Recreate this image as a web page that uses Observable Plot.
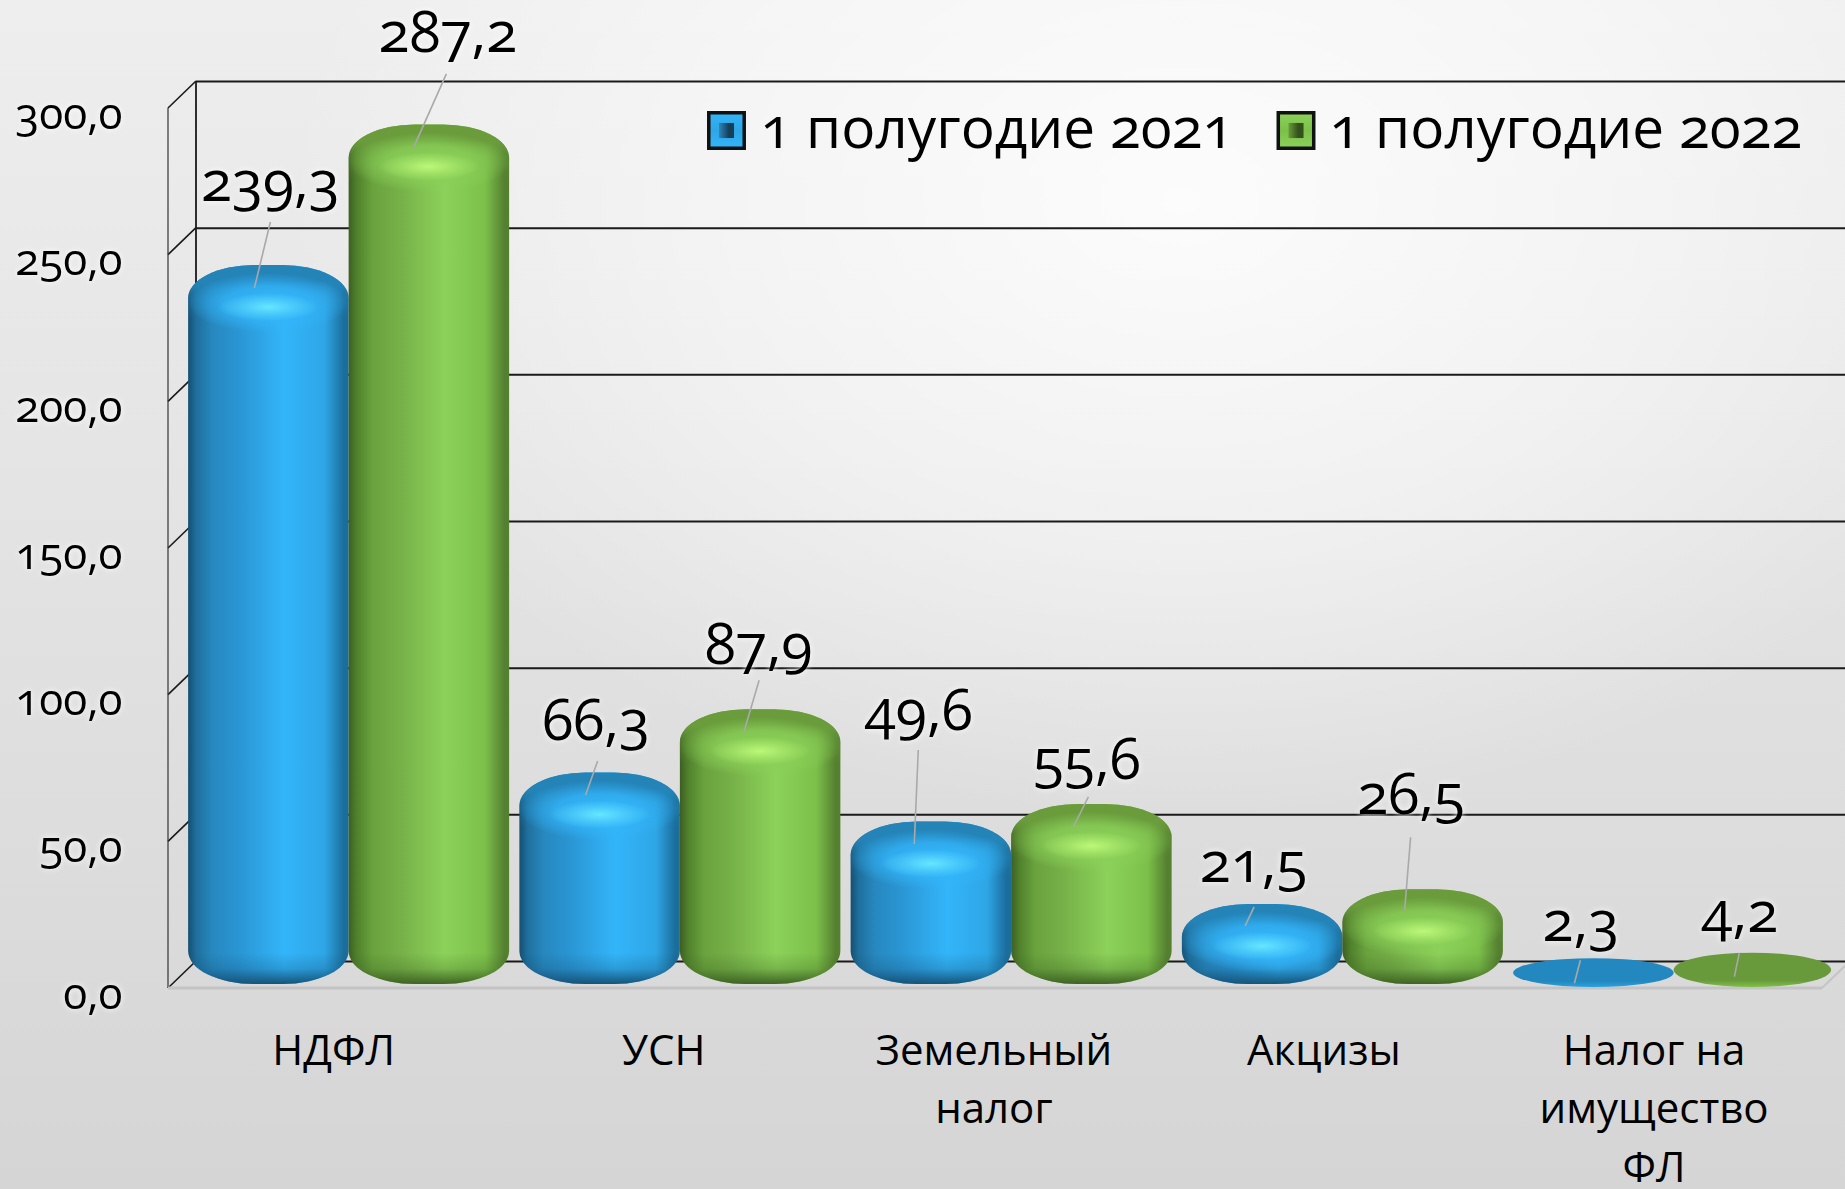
<!DOCTYPE html>
<html lang="ru">
<head>
<meta charset="utf-8">
<script src="https://cdn.jsdelivr.net/npm/d3@7"></script>
<script src="https://cdn.jsdelivr.net/npm/@observablehq/plot@0.6"></script>
<style>
html,body{margin:0;padding:0;width:1845px;height:1189px;overflow:hidden}
body{background:
 radial-gradient(ellipse 900px 620px at 1180px 200px, rgba(255,255,255,.85) 0%, rgba(255,255,255,.45) 55%, rgba(255,255,255,0) 100%),
 linear-gradient(180deg,#eeeeee 0%,#e8e8e8 25%,#dedede 65%,#d5d5d5 100%);}
</style>
</head>
<body>
<div id="chart"></div>
<script>
const categories = ["НДФЛ", "УСН", "Земельный\nналог", "Акцизы", "Налог на\nимущество\nФЛ"];
const series = ["1 полугодие 2021", "1 полугодие 2022"];
const values2021 = [239.3, 66.3, 49.6, 21.5, 2.3];
const values2022 = [287.2, 87.9, 55.6, 26.5, 4.2];
const yTicks = [0, 50, 100, 150, 200, 250, 300];

// hand placement of the value labels, relative to the top centre of each bar: [dx, dy]
const labelOffsets2021 = [[1.5,-65],[-4,-33],[-12.6,-92],[-9,-22],[-13,-20]];
const labelOffsets2022 = [[18.5,-72.6],[-2,-46],[-5,-25],[-12,-76],[-14.5,-23]];
// leader lines: [dx1, dy1, dx2, dy2]
const leaderOffsets2021 = [[2,-43,-14,23],[-2,-11.5,-14,22.5],[-12.6,-71.5,-16.6,22.5],[-8,3,-17,22],[-13,0,-19,23]];
const leaderOffsets2022 = [[17.5,-50.6,-15,22.4],[-1,-29,-16,22],[-3,-7,-18,23],[-12,-52,-18,21],[-14.5,-2,-19.5,22]];

const fmt = v => v.toFixed(1).replace(".", ",");
const FONT = "'Open Sans', 'Noto Sans', sans-serif";
const BAR_W = 160.5, BAND = 331.25;
const INSET = (BAND - BAR_W) / 2;
const RX = 66;                                  // corner roundness of the tall bars
const DX = [15 - BAR_W / 2, 15 + BAR_W / 2];   // bar centre offset from the band centre
const LIFT = -21;                               // bars stand in the middle of the floor depth
const FLAT = 10;                                // below this value a bar is drawn as a flat disc

const makeRows = (vals, labels, leaders, s) => vals.map((value, i) => ({
  category: categories[i], value, s, label: labels[i], leader: leaders[i]
}));
const rowSets = [
  makeRows(values2021, labelOffsets2021, leaderOffsets2021, 0),
  makeRows(values2022, labelOffsets2022, leaderOffsets2022, 1)
];

function barMarks(rows, s) {
  const id = ["b", "g"][s];
  const tall = rows.filter(d => d.value >= FLAT);
  const flat = rows.filter(d => d.value < FLAT);
  const base = {x: "category", dx: DX[s], dy: LIFT};
  const side = {insetLeft: INSET, insetRight: INSET};
  const overlay = (y1, extra) => Plot.barY(tall, {...base, ...side, y1, y2: y1, ...extra});
  return [
    Plot.barY(tall, {...base, ...side, y1: () => 0, y2: "value", insetBottom: -17,
      rx: RX, ry: 33, fill: `url(#${id}Body)`}),
    // shading along the lower rounded edge
    overlay(() => 0, {insetTop: -52, insetBottom: -17, rx: RX, ry: 33, fill: `url(#${id}Bottom)`}),
    // darker top face
    overlay("value", {insetTop: 0, insetBottom: -100, rx: RX, ry: 33, fill: `url(#${id}Top)`}),
    // bright band below the top face, fading towards the sides
    overlay("value", {insetTop: 8, insetBottom: -68, rx: BAR_W / 2, ry: 30, fill: `url(#${id}Rim)`}),
    // highlight
    overlay("value", {insetTop: 28, insetBottom: -56, insetLeft: INSET + 30, insetRight: INSET + 30, rx: 50, ry: 14, fill: `url(#${id}Hi)`}),
    // very low values collapse to a disc
    Plot.barY(flat, {...base, insetLeft: INSET, insetRight: INSET + s * 3, y1: () => 0, y2: "value", insetTop: -2, insetBottom: -20,
      rx: BAR_W / 2, ry: 20, fill: `url(#${id}Disc)`})
  ];
}

function labelMarks(rows, s) {
  return rows.flatMap(d => [
    Plot.text([d], {x: "category", y: "value", text: r => fmt(r.value),
      dx: DX[s] + d.label[0], dy: LIFT + d.label[1],
      lineAnchor: "bottom", textAnchor: "middle", fontSize: 57, fontVariant: "oldstyle-nums",
      fill: "#000", imageFilter: "drop-shadow(0 0 3px #fff)"}),
    (index, {x, y}) => {
      const cx = x(d.category) + x.bandwidth() / 2 + DX[s];
      const cy = y(d.value) + LIFT;
      const [a, b, c, e] = d.leader;
      return d3.create("svg:line")
        .attr("x1", cx + a).attr("y1", cy + b).attr("x2", cx + c).attr("y2", cy + e)
        .attr("stroke", "#a9a9a9").attr("stroke-width", 1.6).node();
    }
  ]);
}

const walls = (index, {y}, _v, {width, marginLeft, marginRight}) => {
  const g = d3.create("svg:g").attr("fill", "none");
  const D = 28, E = 27, L = marginLeft, R = 1822;
  // diagonals of the left wall
  for (const t of yTicks) {
    g.append("line").attr("x1", L).attr("y1", y(t)).attr("x2", L + D).attr("y2", y(t) - E)
      .attr("stroke", "#1a1a1a").attr("stroke-width", 1.6);
  }
  g.append("line").attr("x1", L).attr("y1", y(0)).attr("x2", L).attr("y2", y(300))
    .attr("stroke", "#333").attr("stroke-width", 1.2);
  g.append("line").attr("x1", L + D).attr("y1", y(0) - E).attr("x2", L + D).attr("y2", y(300) - E)
    .attr("stroke", "#1a1a1a").attr("stroke-width", 1.8);
  // floor front edge and right edge
  g.append("line").attr("x1", L).attr("y1", y(0)).attr("x2", R).attr("y2", y(0))
    .attr("stroke", "#c4c4c4").attr("stroke-width", 3);
  g.append("line").attr("x1", R).attr("y1", y(0)).attr("x2", R + D).attr("y2", y(0) - E)
    .attr("stroke", "#c4c4c4").attr("stroke-width", 2);
  return g.node();
};

const legendMarks = series.flatMap((name, s) => {
  const sx = [707, 1276.5][s], tx = [760, 1329][s];
  const anchor = {frameAnchor: "top-left", dx: sx + 19 - 168, dy: 130 - 108};
  return [
    Plot.dot([name], {...anchor, symbol: "square", r: 20, fill: `url(#${["b","g"][s]}Swatch)`, stroke: "#111", strokeWidth: 3.5}),
    Plot.dot([name], {...anchor, symbol: "square", r: 8.5, fill: `url(#${["b","g"][s]}SwatchIn)`}),
    Plot.text([name], {frameAnchor: "top-left", dx: tx - 168, dy: 147 - 108, text: d => d,
      textAnchor: "start", lineAnchor: "bottom", fontSize: 56.7, fontVariant: "oldstyle-nums", fill: "#000"})
  ];
});

const chart = Plot.plot({
  width: 1845,
  height: 1189,
  marginLeft: 168,
  marginRight: 1845 - 168 - 5 * BAND,
  marginTop: 108,
  marginBottom: 201,
  style: {background: "transparent", fontFamily: FONT},
  x: {type: "band", domain: categories, padding: 0, round: false, label: null},
  y: {domain: [0, 300], label: null},
  marks: [
    Plot.ruleY(yTicks, {dy: -27, insetLeft: 28, insetRight: -40, stroke: "#1a1a1a", strokeWidth: 2}),
    walls,
    Plot.axisY({ticks: yTicks, tickSize: 0, tickPadding: 46, tickFormat: fmt, dy: 6, fontSize: 44,
      fontVariant: "oldstyle-nums", fill: "#000", label: null, imageFilter: "drop-shadow(0 0 3px #fff)"}),
    ...categories.map((c, i) => Plot.axisX({ticks: [c], dx: -0.5 - 1.15 * i, tickSize: 0, tickPadding: 35, fontSize: 42,
      lineHeight: 1.39, lineAnchor: "top", fill: "#000", label: null})),
    ...rowSets.flatMap((rows, s) => barMarks(rows, s)),
    ...rowSets.flatMap((rows, s) => labelMarks(rows, s)),
    ...legendMarks
  ]
});

const stops = a => a.map(([o, c, op]) => `<stop offset="${o}" stop-color="${c}"${op != null ? ` stop-opacity="${op}"` : ""}/>`).join("");
const palette = {
  b: {edgeL:"#144f72", l0:"#1f6f9c", l:"#2788bf", l2:"#2a96d4", mid:"#33b5fa", r:"#2ea6e6", edgeR:"#1b6e9c", bottom:"#134f74", rim:"#33b5fa", top:"#2484b8", hi:"#66e6ff", disc:"#2388bf", discE:"#2aa2e0", inA:"#2e86bb", inB:"#143f5a"},
  g: {edgeL:"#3d5f22", l0:"#50802c", l:"#6aa33e", l2:"#76b048", mid:"#8cd25a", r:"#7cc04a", edgeR:"#558030", bottom:"#3a5f20", rim:"#8ad058", top:"#6a9c3c", hi:"#bcf878", disc:"#68993a", discE:"#7fbf48", inA:"#6a9c3c", inB:"#34501c"}
};
const defs = Object.entries(palette).map(([k, p]) => `
  <linearGradient id="${k}Body" x1="0" x2="1" y1="0" y2="0">${stops([[0,p.edgeL],[.05,p.l0],[.15,p.l],[.32,p.l2],[.6,p.mid],[.85,p.r],[.97,p.edgeR],[1,p.edgeR]])}</linearGradient>
  <linearGradient id="${k}Bottom" x1="0" x2="0" y1="0" y2="1">${stops([[0,p.bottom,0],[.55,p.bottom,0],[.78,p.bottom,.25],[1,p.bottom,.95]])}</linearGradient>
  <linearGradient id="${k}Top" x1="0" x2="0" y1="0" y2="1">${stops([[0,p.top,1],[.16,p.top,1],[.3,p.top,.4],[.55,p.top,0]])}</linearGradient>
  <radialGradient id="${k}Rim" cx=".5" cy=".5" r=".5">${stops([[0,p.rim,.95],[.55,p.rim,.75],[1,p.rim,0]])}</radialGradient>
  <radialGradient id="${k}Hi" cx=".5" cy=".5" r=".5">${stops([[0,p.hi,1],[.5,p.hi,.45],[1,p.hi,0]])}</radialGradient>
  <linearGradient id="${k}Disc" x1="0" x2="0" y1="0" y2="1">${stops([[0,p.disc],[.8,p.disc],[1,p.discE]])}</linearGradient>
  <linearGradient id="${k}Swatch" x1="0" x2="0" y1="0" y2="1">${stops([[0,p.mid],[.5,p.r],[1,p.mid]])}</linearGradient>
  <linearGradient id="${k}SwatchIn" x1="0" x2="1" y1="0" y2="0">${stops([[0,p.inA],[.65,p.inB],[1,p.inB]])}</linearGradient>`).join("");
chart.insertAdjacentHTML("afterbegin", `<defs>${defs}</defs>`);
document.getElementById("chart").appendChild(chart);
</script>
</body>
</html>
